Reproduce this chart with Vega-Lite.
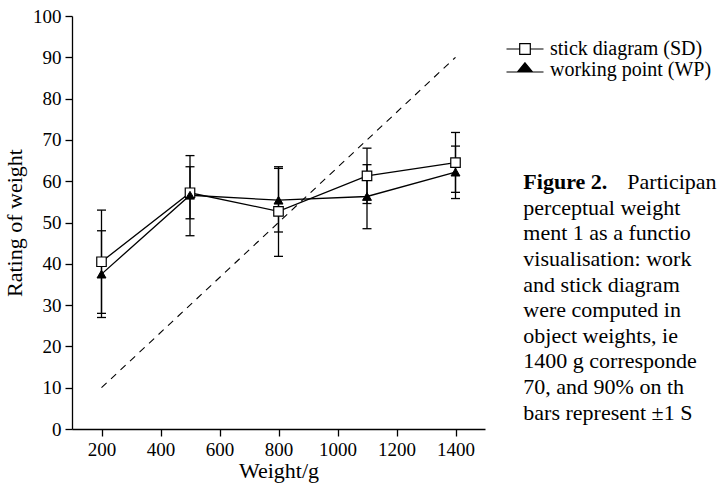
{
  "$schema": "https://vega.github.io/schema/vega-lite/v6.json",
  "width": 413,
  "height": 413,
  "autosize": {"type": "none"},
  "padding": {"left": 72, "top": 16, "right": 235, "bottom": 56},
  "background": "white",
  "datasets": {
    "ratings": [
      {"series": "stick diagram (SD)", "weight": 200, "mean": 40.5, "lo": 28, "hi": 53},
      {"series": "stick diagram (SD)", "weight": 500, "mean": 57.2, "lo": 50.9, "hi": 63.5},
      {"series": "stick diagram (SD)", "weight": 800, "mean": 52.7, "lo": 41.8, "hi": 63.5},
      {"series": "stick diagram (SD)", "weight": 1100, "mean": 61.3, "lo": 54.6, "hi": 68},
      {"series": "stick diagram (SD)", "weight": 1400, "mean": 64.5, "lo": 57.3, "hi": 71.8},
      {"series": "working point (WP)", "weight": 200, "mean": 37.5, "lo": 27, "hi": 48},
      {"series": "working point (WP)", "weight": 500, "mean": 56.6, "lo": 46.8, "hi": 66.2},
      {"series": "working point (WP)", "weight": 800, "mean": 55.4, "lo": 47.7, "hi": 63.1},
      {"series": "working point (WP)", "weight": 1100, "mean": 56.3, "lo": 48.5, "hi": 64},
      {"series": "working point (WP)", "weight": 1400, "mean": 62.2, "lo": 55.8, "hi": 68.5}
    ],
    "ideal": [
      {"weight": 200, "rating": 10},
      {"weight": 1400, "rating": 90}
    ],
    "caption": [
      {"line": 0, "text": "Participan"},
      {"line": 1, "text": "perceptual weight"},
      {"line": 2, "text": "ment 1 as a functio"},
      {"line": 3, "text": "visualisation: work"},
      {"line": 4, "text": "and stick diagram"},
      {"line": 5, "text": "were computed in"},
      {"line": 6, "text": "object weights, ie"},
      {"line": 7, "text": "1400 g corresponde"},
      {"line": 8, "text": "70, and 90% on th"},
      {"line": 9, "text": "bars represent ±1 S"}
    ]
  },
  "layer": [
    {
      "layer": [
        {
          "data": {"name": "ideal"},
          "mark": {"type": "line", "color": "black", "strokeWidth": 1.1, "strokeDash": [7, 6]},
          "encoding": {
            "x": {"field": "weight", "type": "quantitative", "title": "Weight/g", "axis": {"format": "d"}, "scale": {"domain": [100, 1500], "nice": false}},
            "y": {"field": "rating", "type": "quantitative", "title": "Rating of weight", "scale": {"domain": [0, 100], "nice": false}}
          }
        },
        {
          "data": {"name": "ratings"},
          "mark": {"type": "line", "color": "black", "strokeWidth": 1.3},
          "encoding": {
            "x": {"field": "weight", "type": "quantitative", "title": "Weight/g", "scale": {"domain": [100, 1500], "nice": false}},
            "y": {"field": "mean", "type": "quantitative", "title": "Rating of weight", "scale": {"domain": [0, 100], "nice": false}},
            "detail": {"field": "series"}
          }
        },
        {
          "data": {"name": "ratings"},
          "mark": {"type": "rule", "color": "black", "strokeWidth": 1.3},
          "encoding": {
            "x": {"field": "weight", "type": "quantitative", "title": "Weight/g", "scale": {"domain": [100, 1500], "nice": false}},
            "y": {"field": "lo", "type": "quantitative", "title": "Rating of weight", "scale": {"domain": [0, 100], "nice": false}},
            "y2": {"field": "hi"}
          }
        },
        {
          "data": {"name": "ratings"},
          "mark": {"type": "tick", "color": "black", "orient": "horizontal", "size": 9, "thickness": 1.3, "opacity": 1},
          "encoding": {
            "x": {"field": "weight", "type": "quantitative", "title": "Weight/g", "scale": {"domain": [100, 1500], "nice": false}},
            "y": {"field": "lo", "type": "quantitative", "title": "Rating of weight", "scale": {"domain": [0, 100], "nice": false}}
          }
        },
        {
          "data": {"name": "ratings"},
          "mark": {"type": "tick", "color": "black", "orient": "horizontal", "size": 9, "thickness": 1.3, "opacity": 1},
          "encoding": {
            "x": {"field": "weight", "type": "quantitative", "title": "Weight/g", "scale": {"domain": [100, 1500], "nice": false}},
            "y": {"field": "hi", "type": "quantitative", "title": "Rating of weight", "scale": {"domain": [0, 100], "nice": false}}
          }
        },
        {
          "data": {"name": "ratings"},
          "transform": [{"filter": "datum.series === 'stick diagram (SD)'"}],
          "mark": {"type": "point", "shape": "square", "filled": true, "fill": "white", "stroke": "black", "strokeWidth": 1.2, "size": 90, "opacity": 1},
          "encoding": {
            "x": {"field": "weight", "type": "quantitative", "title": "Weight/g", "scale": {"domain": [100, 1500], "nice": false}},
            "y": {"field": "mean", "type": "quantitative", "title": "Rating of weight", "scale": {"domain": [0, 100], "nice": false}}
          }
        },
        {
          "data": {"name": "ratings"},
          "transform": [{"filter": "datum.series === 'working point (WP)'"}],
          "mark": {"type": "point", "shape": "triangle-up", "filled": true, "fill": "black", "stroke": "black", "strokeWidth": 1, "size": 80, "opacity": 1},
          "encoding": {
            "x": {"field": "weight", "type": "quantitative", "title": "Weight/g", "scale": {"domain": [100, 1500], "nice": false}},
            "y": {"field": "mean", "type": "quantitative", "title": "Rating of weight", "scale": {"domain": [0, 100], "nice": false}}
          }
        },
        {
          "data": {"name": "ratings"},
          "transform": [{"filter": "datum.weight > 5000"}],
          "mark": {"type": "point", "filled": true, "strokeWidth": 1.2, "opacity": 1},
          "encoding": {
            "shape": {
              "field": "series",
              "type": "nominal",
              "title": null,
              "scale": {"domain": ["stick diagram (SD)", "working point (WP)"], "range": ["M-1.85,0H-0.53M0.53,0H1.85M-0.53,-0.53H0.53V0.53H-0.53Z", "M-1.85,0.2H1.85M0,-0.72L0.75,0.2H-0.75Z"]},
              "legend": {
                "orient": "none",
                "legendX": 442,
                "legendY": 22,
                "padding": 0,
                "symbolSize": 400,
                "symbolStrokeWidth": 1.2,
                "labelFont": "Liberation Serif",
                "labelFontSize": 20,
                "labelColor": "black",
                "labelLimit": 400,
                "labelOffset": 14,
                "rowPadding": -7
              }
            },
            "fill": {
              "field": "series",
              "type": "nominal",
              "title": null,
              "scale": {"domain": ["stick diagram (SD)", "working point (WP)"], "range": ["white", "black"]},
              "legend": {
                "orient": "none",
                "legendX": 442,
                "legendY": 22,
                "padding": 0,
                "symbolSize": 400,
                "symbolStrokeWidth": 1.2,
                "labelFont": "Liberation Serif",
                "labelFontSize": 20,
                "labelColor": "black",
                "labelLimit": 400,
                "labelOffset": 14,
                "rowPadding": -7
              }
            },
            "stroke": {
              "field": "series",
              "type": "nominal",
              "title": null,
              "scale": {"domain": ["stick diagram (SD)", "working point (WP)"], "range": ["black", "black"]},
              "legend": {
                "orient": "none",
                "legendX": 442,
                "legendY": 22,
                "padding": 0,
                "symbolSize": 400,
                "symbolStrokeWidth": 1.2,
                "labelFont": "Liberation Serif",
                "labelFontSize": 20,
                "labelColor": "black",
                "labelLimit": 400,
                "labelOffset": 14,
                "rowPadding": -7
              }
            }
          }
        }
      ]
    },
    {
      "layer": [
        {
          "data": {"values": [{"line": 0, "text": "Figure 2."}]},
          "mark": {"type": "text", "align": "left", "baseline": "alphabetic", "font": "Liberation Serif", "fontSize": 22, "fontWeight": "bold", "color": "black"},
          "encoding": {
            "x": {"datum": 1630, "type": "quantitative", "title": "Weight/g", "scale": {"domain": [100, 1500], "nice": false}},
            "y": {"field": "line", "type": "quantitative", "axis": null, "scale": {"domain": [-6.76, 9.37], "reverse": true, "nice": false, "zero": false}},
            "text": {"field": "text"}
          }
        },
        {
          "data": {"name": "caption"},
          "transform": [{"filter": "datum.line == 0"}],
          "mark": {"type": "text", "align": "left", "baseline": "alphabetic", "font": "Liberation Serif", "fontSize": 22, "color": "black", "dx": 104},
          "encoding": {
            "x": {"datum": 1630, "type": "quantitative", "title": "Weight/g", "scale": {"domain": [100, 1500], "nice": false}},
            "y": {"field": "line", "type": "quantitative", "axis": null, "scale": {"domain": [-6.76, 9.37], "reverse": true, "nice": false, "zero": false}},
            "text": {"field": "text"}
          }
        },
        {
          "data": {"name": "caption"},
          "transform": [{"filter": "datum.line > 0"}],
          "mark": {"type": "text", "align": "left", "baseline": "alphabetic", "font": "Liberation Serif", "fontSize": 22, "color": "black"},
          "encoding": {
            "x": {"datum": 1630, "type": "quantitative", "title": "Weight/g", "scale": {"domain": [100, 1500], "nice": false}},
            "y": {"field": "line", "type": "quantitative", "axis": null, "scale": {"domain": [-6.76, 9.37], "reverse": true, "nice": false, "zero": false}},
            "text": {"field": "text"}
          }
        }
      ]
    }
  ],
  "resolve": {"scale": {"y": "independent"}},
  "config": {
    "view": {"stroke": null},
    "font": "Liberation Serif",
    "axis": {
      "grid": false,
      "domainColor": "black",
      "domainWidth": 1.3,
      "tickColor": "black",
      "tickWidth": 1.3,
      "tickSize": 7,
      "labelFont": "Liberation Serif",
      "labelFontSize": 19,
      "labelColor": "black",
      "titleFont": "Liberation Serif",
      "titleFontSize": 22,
      "titleFontWeight": "normal",
      "titleColor": "black"
    },
    "axisX": {"tickCount": 7, "labelPadding": 4, "titlePadding": 1},
    "axisY": {"tickCount": 10, "labelPadding": 4, "titlePadding": 6}
  }
}
